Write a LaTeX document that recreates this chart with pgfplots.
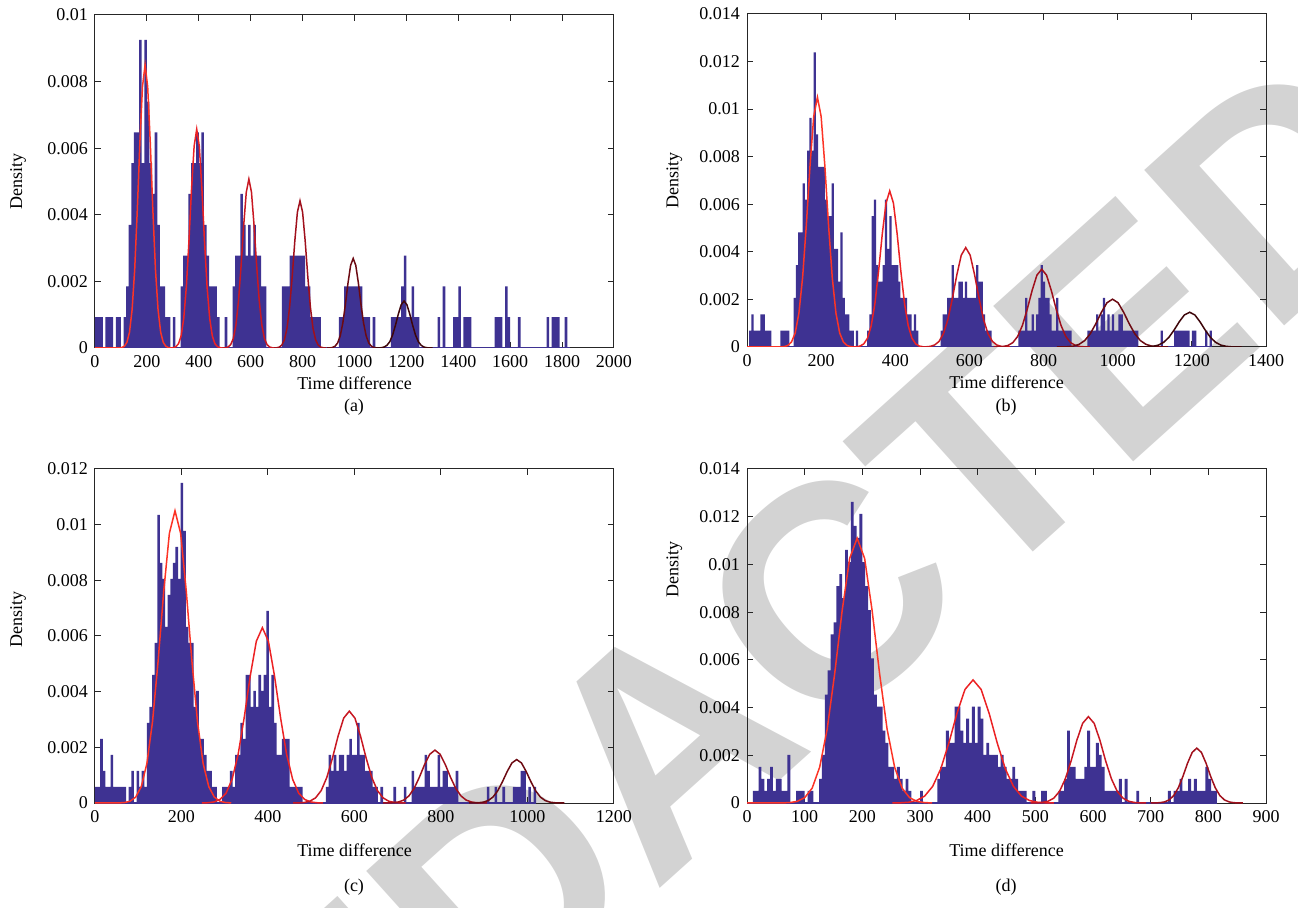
\documentclass[border=0pt]{standalone}
\usepackage{fontspec}
\setmainfont{Liberation Serif}
\newfontfamily\wmfont{Liberation Sans}
\usepackage{pgfplots}
\usepackage{pgfplotstable}
\pgfplotsset{compat=1.18}
\definecolor{barc}{RGB}{62,50,146}
\definecolor{ra}{RGB}{252,52,38}
\definecolor{rb}{RGB}{236,34,36}
\definecolor{rc}{RGB}{200,24,34}
\definecolor{rd}{RGB}{160,16,28}
\definecolor{re}{RGB}{108,10,18}
\definecolor{rf}{RGB}{62,6,10}
\definecolor{wm}{RGB}{211,211,211}
\definecolor{axc}{RGB}{38,38,38}

\pgfplotstableread[row sep=\\]{x y\\
5 .000925\\15 .000925\\25 .000925\\45 .000925\\55 .000925\\65 .000925\\85 .000925\\95 .000925\\115 .000925\\
125 .00185\\135 .0037\\145 .00555\\155 .006475\\165 .006475\\175 .00925\\185 .00555\\195 .00925\\205 .0074\\215 .00555\\225 .004625\\235 .006475\\245 .0037\\255 .00185\\265 .00185\\
275 .000925\\285 .000925\\305 .000925\\
335 .00185\\345 .002775\\355 .002775\\365 .004625\\375 .00555\\385 .00555\\395 .006475\\405 .00555\\415 .006475\\425 .0037\\435 .002775\\445 .00185\\455 .00185\\465 .00185\\
475 .000925\\505 .000925\\
535 .00185\\545 .002775\\555 .002775\\565 .004625\\575 .0037\\585 .002775\\595 .0037\\605 .002775\\615 .0037\\625 .002775\\635 .002775\\645 .00185\\655 .00185\\
725 .00185\\735 .00185\\745 .00185\\755 .002775\\765 .002775\\775 .002775\\785 .002775\\795 .002775\\805 .002775\\815 .00185\\825 .00185\\835 .000925\\845 .000925\\855 .000925\\865 .000925\\
945 .000925\\955 .000925\\965 .00185\\975 .00185\\985 .00185\\995 .00185\\1005 .00185\\1015 .00185\\1025 .00185\\1035 .000925\\1045 .000925\\1055 .000925\\1075 .000925\\
1145 .000925\\1155 .000925\\1165 .000925\\1175 .000925\\1185 .00185\\1195 .002775\\1205 .000925\\1215 .000925\\1225 .00185\\1235 .000925\\1245 .000925\\
1325 .000925\\1345 .00185\\1385 .000925\\1395 .000925\\1405 .00185\\1425 .000925\\1435 .000925\\1445 .000925\\1545 .000925\\1555 .000925\\1565 .000925\\1585 .00185\\1595 .000925\\1635 .000925\\1745 .000925\\1765 .000925\\1775 .000925\\1785 .000925\\1815 .000925\\
}\histA

\pgfplotstableread[row sep=\\]{x y\\
9 .000688\\15 .001376\\21 .000688\\27 .000688\\33 .000688\\39 .001376\\45 .001376\\51 .000688\\57 .000688\\63 .000688\\
93 .000688\\99 .000688\\105 .000688\\111 .000688\\
129 .002064\\135 .00344\\141 .004816\\147 .004816\\153 .00688\\159 .006192\\165 .008256\\171 .009632\\177 .008256\\183 .012384\\189 .008944\\195 .007568\\201 .007568\\207 .007568\\213 .006192\\219 .005504\\225 .005504\\231 .00688\\237 .004128\\243 .004128\\249 .002752\\255 .004816\\261 .002064\\267 .001376\\273 .001376\\279 .000688\\
285 .000688\\297 .000688\\
327 .000688\\333 .001376\\339 .005504\\345 .006192\\351 .00344\\357 .002752\\363 .002752\\369 .00344\\375 .006192\\381 .004128\\387 .005504\\393 .00344\\399 .00344\\405 .00344\\411 .002752\\417 .002064\\423 .002064\\429 .002064\\435 .001376\\441 .001376\\447 .000688\\453 .001376\\459 .000688\\
525 .000688\\531 .001376\\537 .001376\\543 .002064\\549 .002064\\555 .00344\\561 .002064\\567 .002064\\573 .002752\\579 .002752\\585 .002064\\591 .002752\\597 .002064\\603 .002064\\609 .002064\\615 .002064\\621 .00344\\627 .002752\\633 .002752\\639 .001376\\645 .000688\\651 .000688\\657 .000688\\
735 .000688\\741 .000688\\747 .000688\\753 .002064\\759 .000688\\765 .000688\\771 .001376\\777 .000688\\783 .001376\\789 .002064\\795 .00344\\801 .002752\\807 .002064\\813 .002064\\819 .001376\\825 .000688\\831 .000688\\837 .002064\\843 .000688\\849 .000688\\855 .000688\\861 .000688\\867 .000688\\873 .000688\\
921 .000688\\927 .000688\\933 .000688\\939 .000688\\945 .001376\\951 .000688\\957 .001376\\963 .002064\\969 .000688\\975 .001376\\981 .000688\\987 .001376\\993 .000688\\999 .000688\\1005 .001376\\1011 .001376\\1017 .000688\\1023 .000688\\1029 .000688\\1035 .000688\\1041 .000688\\1047 .000688\\1053 .000688\\
1119 .000688\\1155 .000688\\1161 .000688\\1167 .000688\\1173 .000688\\1179 .000688\\1185 .000688\\1191 .000688\\1203 .000688\\1209 .000688\\1239 .000688\\1251 .000688\\
}\histB

\pgfplotstableread[row sep=\\]{x y\\
3 .000575\\9 .000575\\15 .0023\\21 .00115\\27 .000575\\33 .000575\\39 .001725\\45 .000575\\51 .000575\\57 .000575\\63 .000575\\69 .000575\\81 .000575\\87 .00115\\
99 .00115\\105 .000575\\111 .00115\\117 .000575\\
123 .002875\\129 .00345\\135 .0046\\141 .00575\\147 .01035\\153 .008625\\159 .00805\\165 .006325\\171 .007475\\177 .00805\\183 .008625\\189 .0092\\195 .00805\\201 .0115\\207 .009775\\213 .006325\\219 .00575\\225 .00575\\231 .00345\\237 .004025\\243 .0023\\249 .0023\\255 .001725\\261 .00115\\267 .00115\\273 .000575\\
279 .000575\\297 .000575\\303 .000575\\309 .000575\\315 .00115\\321 .000575\\
327 .001725\\333 .001725\\339 .002875\\345 .0023\\351 .0046\\357 .0046\\363 .00345\\369 .004025\\375 .00345\\381 .0046\\387 .004025\\393 .0046\\399 .0069\\405 .00345\\411 .0046\\417 .002875\\423 .001725\\429 .001725\\435 .0023\\441 .0023\\447 .0023\\453 .000575\\459 .000575\\465 .000575\\471 .000575\\477 .000575\\
537 .000575\\543 .001725\\549 .00115\\555 .001725\\561 .00115\\567 .001725\\573 .001725\\579 .00115\\585 .001725\\591 .0023\\597 .001725\\603 .001725\\609 .002875\\615 .001725\\621 .001725\\627 .00115\\633 .00115\\639 .00115\\645 .000575\\651 .000575\\663 .000575\\
693 .000575\\717 .000575\\
735 .00115\\741 .000575\\747 .000575\\753 .000575\\759 .000575\\765 .001725\\771 .00115\\777 .000575\\783 .000575\\789 .000575\\795 .001725\\801 .000575\\807 .00115\\813 .00115\\819 .000575\\825 .000575\\831 .000575\\837 .00115\\
909 .000575\\927 .000575\\945 .000575\\969 .000575\\975 .000575\\981 .000575\\987 .00115\\993 .00115\\1005 .000575\\1017 .000575\\
}\histC

\pgfplotstableread[row sep=\\]{x y\\
12.5 .000505\\17.5 .000505\\22.5 .001515\\27.5 .00101\\32.5 .000505\\37.5 .00101\\42.5 .001515\\47.5 .000505\\52.5 .00101\\57.5 .00101\\62.5 .000505\\67.5 .000505\\72.5 .00202\\
87.5 .000505\\92.5 .000505\\97.5 .000505\\107.5 .000505\\112.5 .000505\\
127.5 .00101\\132.5 .00202\\137.5 .004545\\142.5 .005555\\147.5 .00707\\152.5 .007575\\157.5 .00909\\162.5 .009595\\167.5 .008585\\172.5 .010605\\177.5 .0101\\182.5 .012625\\187.5 .011615\\192.5 .01111\\197.5 .01212\\202.5 .0101\\207.5 .00909\\212.5 .00808\\217.5 .00606\\222.5 .004545\\227.5 .00404\\232.5 .00404\\237.5 .00303\\242.5 .002525\\247.5 .001515\\252.5 .001515\\257.5 .00101\\262.5 .001515\\267.5 .00101\\272.5 .000505\\277.5 .00101\\282.5 .000505\\
302.5 .000505\\
332.5 .00101\\337.5 .001515\\342.5 .001515\\347.5 .00303\\352.5 .002525\\357.5 .002525\\362.5 .00404\\367.5 .00404\\372.5 .00303\\377.5 .002525\\382.5 .003535\\387.5 .002525\\392.5 .00404\\397.5 .002525\\402.5 .00404\\407.5 .003535\\412.5 .00202\\417.5 .002525\\422.5 .00202\\427.5 .00202\\432.5 .00202\\437.5 .001515\\442.5 .00202\\447.5 .001515\\452.5 .00101\\457.5 .00101\\462.5 .001515\\467.5 .00101\\472.5 .000505\\477.5 .000505\\482.5 .000505\\497.5 .000505\\512.5 .000505\\517.5 .000505\\
542.5 .000505\\547.5 .000505\\552.5 .00101\\557.5 .00303\\562.5 .001515\\567.5 .001515\\572.5 .00101\\577.5 .00101\\582.5 .00101\\587.5 .001515\\592.5 .00303\\597.5 .001515\\602.5 .001515\\607.5 .002525\\612.5 .00202\\617.5 .001515\\622.5 .000505\\627.5 .000505\\632.5 .000505\\637.5 .000505\\642.5 .000505\\647.5 .00101\\657.5 .00101\\677.5 .000505\\
732.5 .000505\\742.5 .000505\\747.5 .000505\\752.5 .00101\\757.5 .000505\\762.5 .000505\\767.5 .00101\\772.5 .000505\\777.5 .00101\\782.5 .000505\\787.5 .000505\\792.5 .000505\\797.5 .001515\\802.5 .00101\\807.5 .000505\\812.5 .000505\\
}\histD

\pgfplotsset{
  panel/.style={
    scale only axis, width=259.5pt, anchor=south west,
    axis line style={axc, line width=0.5pt},
    every tick/.style={axc, line width=0.5pt},
    major tick length=3pt, tick align=inside,
    enlargelimits=false, xmin=0, ymin=0,
    scaled y ticks=false, scaled x ticks=false,
    yticklabel style={/pgf/number format/fixed, /pgf/number format/precision=3},
    xticklabel style={/pgf/number format/set thousands separator={}},
    /pgf/number format/assume math mode=true,
    tick label style={font=\fontsize{9}{10}\selectfont},
    label style={font=\fontsize{9}{10}\selectfont},
    xlabel={Time difference}, ylabel={Density},
  },
  hist/.style={ybar, bar shift=0pt, fill=barc, draw=none, forget plot},
  gc/.style={line width=0.75pt, no markers, forget plot},
}

\begin{document}
\begin{tikzpicture}
\path[use as bounding box] (0,0) rectangle (649pt,453.5pt);
\begin{scope}
\clip (0,0) rectangle (649pt,453.5pt);
\node[rotate=42, text=wm, inner sep=0pt, font=\wmfont\bfseries\fontsize{152}{152}\selectfont] at (367.5pt,113.5pt) {REDACTED};
\end{scope}

% (a)
\begin{axis}[panel, at={(47.5pt,279.5pt)}, height=166.5pt,
  xmax=2000, ymax=0.01,
  xtick={0,200,...,2000}, ytick={0,0.002,0.004,0.006,0.008,0.01},
  xlabel style={at={(axis description cs:0.5,-0.105)}, anchor=center},
  ylabel style={at={(axis description cs:-0.148,0.5)}, anchor=center}]
\addplot[barc, line width=0.8pt, forget plot] coordinates {(0,0) (1830,0)};
\addplot[hist, bar width=10] table[x=x,y=y]{\histA};
\addplot[gc, ra] coordinates {(0,0) (93,0.0000026) (103,0.000013) (113,0.000051) (123,0.00017) (133,0.000476) (143,0.00115) (153,0.00236) (163,0.00414) (173,0.00617) (183,0.00785) (193,0.0085) (203,0.00785) (213,0.00617) (223,0.00414) (233,0.00236) (243,0.00115) (253,0.000476) (263,0.00017) (273,0.000051) (283,0.000013) (293,0.0000026)};
\addplot[gc, rb] coordinates {(292,0.000002) (302,0.0000099) (312,0.0000394) (322,0.000131) (332,0.000368) (342,0.000887) (352,0.00183) (362,0.0032) (372,0.00477) (382,0.00606) (392,0.00657) (402,0.00606) (412,0.00477) (422,0.0032) (432,0.00183) (442,0.000887) (452,0.000368) (462,0.000131) (472,0.0000394) (482,0.0000099) (492,0.000002)};
\addplot[gc, rc] coordinates {(493,0.0000015) (503,0.0000076) (513,0.0000304) (523,0.000101) (533,0.000284) (543,0.000684) (553,0.00141) (563,0.00247) (573,0.00368) (583,0.00468) (593,0.00507) (603,0.00468) (613,0.00368) (623,0.00247) (633,0.00141) (643,0.000684) (653,0.000284) (663,0.000101) (673,0.0000304) (683,0.0000076) (693,0.0000015)};
\addplot[gc, rd] coordinates {(690,0.0000013) (700,0.0000066) (710,0.0000265) (720,0.0000884) (730,0.000248) (740,0.000597) (750,0.00123) (760,0.00215) (770,0.00321) (780,0.00408) (790,0.00442) (800,0.00408) (810,0.00321) (820,0.00215) (830,0.00123) (840,0.000597) (850,0.000248) (860,0.0000884) (870,0.0000265) (880,0.0000066) (890,0.0000013)};
\addplot[gc, re] coordinates {(895,0.0000008) (905,0.000004) (915,0.0000161) (925,0.0000538) (935,0.000151) (945,0.000363) (955,0.000748) (965,0.00131) (975,0.00195) (985,0.00248) (995,0.00269) (1005,0.00248) (1015,0.00195) (1025,0.00131) (1035,0.000748) (1045,0.000363) (1055,0.000151) (1065,0.0000538) (1075,0.0000161) (1085,0.000004) (1095,0.0000008)};
\addplot[gc, rf] coordinates {(1081,0.0000004) (1092,0.0000021) (1103,0.0000085) (1114,0.0000282) (1125,0.000079) (1136,0.00019) (1147,0.000392) (1158,0.000687) (1169,0.00102) (1180,0.0013) (1191,0.00141) (1202,0.0013) (1213,0.00102) (1224,0.000687) (1235,0.000392) (1246,0.00019) (1257,0.000079) (1268,0.0000282) (1279,0.0000085) (1290,0.0000021) (1301,0.0000004)};
\end{axis}

% (b)
\begin{axis}[panel, at={(373.5pt,280pt)}, height=166.5pt,
  xmax=1400, ymax=0.014,
  xtick={0,200,...,1400}, ytick={0,0.002,0.004,0.006,0.008,0.01,0.012,0.014},
  xlabel style={at={(axis description cs:0.5,-0.105)}, anchor=center},
  ylabel style={at={(axis description cs:-0.14,0.5)}, anchor=center}]
\addplot[barc, line width=0.8pt, forget plot] coordinates {(0,0) (1255,0)};
\addplot[hist, bar width=6] table[x=x,y=y]{\histB};
\addplot[gc, ra] coordinates {(0,0) (90,0.0000032) (100,0.0000158) (110,0.000063) (120,0.00021) (130,0.000588) (140,0.00142) (150,0.00292) (160,0.00511) (170,0.00762) (180,0.00969) (190,0.0105) (200,0.00969) (210,0.00762) (220,0.00511) (230,0.00292) (240,0.00142) (250,0.000588) (260,0.00021) (270,0.000063) (280,0.0000158) (290,0.0000032)};
\addplot[gc, rb] coordinates {(285,0.000002) (295,0.0000098) (305,0.0000394) (315,0.000131) (325,0.000367) (335,0.000886) (345,0.00182) (355,0.00319) (365,0.00476) (375,0.00605) (385,0.00656) (395,0.00605) (405,0.00476) (415,0.00319) (425,0.00182) (435,0.000886) (445,0.000367) (455,0.000131) (465,0.0000394) (475,0.0000098) (485,0.000002)};
\addplot[gc, rc] coordinates {(470,0.0000013) (482,0.0000063) (494,0.0000251) (506,0.0000836) (518,0.000234) (530,0.000564) (542,0.00116) (554,0.00204) (566,0.00303) (578,0.00386) (590,0.00418) (602,0.00386) (614,0.00303) (626,0.00204) (638,0.00116) (650,0.000564) (662,0.000234) (674,0.0000836) (686,0.0000251) (698,0.0000063) (710,0.0000013)};
\addplot[gc, rd] coordinates {(665,0.000001) (678,0.0000049) (691,0.0000196) (704,0.0000654) (717,0.000183) (730,0.000441) (743,0.000909) (756,0.00159) (769,0.00237) (782,0.00302) (795,0.00327) (808,0.00302) (821,0.00237) (834,0.00159) (847,0.000909) (860,0.000441) (873,0.000183) (886,0.0000654) (899,0.0000196) (912,0.0000049) (925,0.000001)};
\addplot[gc, re] coordinates {(836,0.0000006) (851,0.000003) (866,0.0000121) (881,0.0000402) (896,0.000113) (911,0.000271) (926,0.000559) (941,0.000979) (956,0.00146) (971,0.00186) (986,0.00201) (1001,0.00186) (1016,0.00146) (1031,0.000979) (1046,0.000559) (1061,0.000271) (1076,0.000113) (1091,0.0000402) (1106,0.0000121) (1121,0.000003) (1136,0.0000006)};
\addplot[gc, rf] coordinates {(1054,0.0000004) (1068,0.0000022) (1082,0.0000088) (1096,0.0000292) (1110,0.0000818) (1124,0.000197) (1138,0.000406) (1152,0.000711) (1166,0.00106) (1180,0.00135) (1194,0.00146) (1208,0.00135) (1222,0.00106) (1236,0.000711) (1250,0.000406) (1264,0.000197) (1278,0.0000818) (1292,0.0000292) (1306,0.0000088) (1320,0.0000022) (1334,0.0000004)};
\end{axis}

% (c)
\begin{axis}[panel, at={(47.5pt,52pt)}, height=167pt,
  xmax=1200, ymax=0.012,
  xtick={0,200,...,1200}, ytick={0,0.002,0.004,0.006,0.008,0.01,0.012},
  xlabel style={at={(axis description cs:0.5,-0.14)}, anchor=center},
  ylabel style={at={(axis description cs:-0.148,0.55)}, anchor=center}]
\addplot[barc, line width=0.8pt, forget plot] coordinates {(0,0) (1020,0)};
\addplot[hist, bar width=6] table[x=x,y=y]{\histC};
\addplot[gc, ra] coordinates {(0,0) (55,0.0000032) (68,0.0000158) (81,0.000063) (94,0.00021) (107,0.000588) (120,0.00142) (133,0.00292) (146,0.00511) (159,0.00762) (172,0.00969) (185,0.0105) (198,0.00969) (211,0.00762) (224,0.00511) (237,0.00292) (250,0.00142) (263,0.000588) (276,0.00021) (289,0.000063) (302,0.0000158) (315,0.0000032)};
\addplot[gc, rb] coordinates {(247,0.0000019) (261,0.0000095) (275,0.0000378) (289,0.000126) (303,0.000353) (317,0.000851) (331,0.00175) (345,0.00307) (359,0.00457) (373,0.00581) (387,0.0063) (401,0.00581) (415,0.00457) (429,0.00307) (443,0.00175) (457,0.000851) (471,0.000353) (485,0.000126) (499,0.0000378) (513,0.0000095) (527,0.0000019)};
\addplot[gc, rc] coordinates {(458,0.000001) (471,0.000005) (484,0.0000198) (497,0.000066) (510,0.000185) (523,0.000446) (536,0.000917) (549,0.00161) (562,0.0024) (575,0.00305) (588,0.0033) (601,0.00305) (614,0.0024) (627,0.00161) (640,0.000917) (653,0.000446) (666,0.000185) (679,0.000066) (692,0.0000198) (705,0.000005) (718,0.000001)};
\addplot[gc, rd] coordinates {(666,0.0000006) (678,0.0000029) (690,0.0000114) (702,0.000038) (714,0.000106) (726,0.000257) (738,0.000528) (750,0.000925) (762,0.00138) (774,0.00175) (786,0.0019) (798,0.00175) (810,0.00138) (822,0.000925) (834,0.000528) (846,0.000257) (858,0.000106) (870,0.000038) (882,0.0000114) (894,0.0000029) (906,0.0000006)};
\addplot[gc, re] coordinates {(865,0.0000005) (876,0.0000023) (887,0.0000094) (898,0.0000312) (909,0.0000874) (920,0.000211) (931,0.000434) (942,0.00076) (953,0.00113) (964,0.00144) (975,0.00156) (986,0.00144) (997,0.00113) (1008,0.00076) (1019,0.000434) (1030,0.000211) (1041,0.0000874) (1052,0.0000312) (1063,0.0000094) (1074,0.0000023) (1085,0.0000005)};
\end{axis}

% (d)
\begin{axis}[panel, at={(373.5pt,52pt)}, height=167pt,
  xmax=900, ymax=0.014,
  xtick={0,100,...,900}, ytick={0,0.002,0.004,0.006,0.008,0.01,0.012,0.014},
  xlabel style={at={(axis description cs:0.5,-0.14)}, anchor=center},
  ylabel style={at={(axis description cs:-0.14,0.70)}, anchor=center}]
\addplot[barc, line width=0.8pt, forget plot] coordinates {(0,0) (815,0)};
\addplot[hist, bar width=5] table[x=x,y=y]{\histD};
\addplot[gc, ra] coordinates {(0,0) (61,0.0000033) (74,0.0000167) (87,0.0000666) (100,0.000222) (113,0.000622) (126,0.0015) (139,0.00309) (152,0.00541) (165,0.00806) (178,0.01025) (191,0.0111) (204,0.01025) (217,0.00806) (230,0.00541) (243,0.00309) (256,0.0015) (269,0.000622) (282,0.000222) (295,0.0000666) (308,0.0000167) (321,0.0000033)};
\addplot[gc, rb] coordinates {(252,0.0000015) (266,0.0000077) (280,0.000031) (294,0.000103) (308,0.000289) (322,0.000697) (336,0.00143) (350,0.00251) (364,0.00375) (378,0.00476) (392,0.00516) (406,0.00476) (420,0.00375) (434,0.00251) (448,0.00143) (462,0.000697) (476,0.000289) (490,0.000103) (504,0.000031) (518,0.0000077) (532,0.0000015)};
\addplot[gc, rc] coordinates {(492,0.0000011) (502,0.0000054) (512,0.0000217) (522,0.0000724) (532,0.000203) (542,0.000489) (552,0.00101) (562,0.00176) (572,0.00263) (582,0.00334) (592,0.00362) (602,0.00334) (612,0.00263) (622,0.00176) (632,0.00101) (642,0.000489) (652,0.000203) (662,0.0000724) (672,0.0000217) (682,0.0000054) (692,0.0000011)};
\addplot[gc, rd] coordinates {(700,0.0000007) (708,0.0000035) (716,0.0000138) (724,0.000046) (732,0.000129) (740,0.000311) (748,0.000639) (756,0.00112) (764,0.00167) (772,0.00212) (780,0.0023) (788,0.00212) (796,0.00167) (804,0.00112) (812,0.000639) (820,0.000311) (828,0.000129) (836,0.000046) (844,0.0000138) (852,0.0000035) (860,0.0000007)};
\end{axis}

\node[font=\fontsize{9}{10}\selectfont] at (177pt,250pt) {(a)};
\node[font=\fontsize{9}{10}\selectfont] at (503pt,250pt) {(b)};
\node[font=\fontsize{9}{10}\selectfont] at (177pt,10pt) {(c)};
\node[font=\fontsize{9}{10}\selectfont] at (503pt,10pt) {(d)};
\end{tikzpicture}
\end{document}
